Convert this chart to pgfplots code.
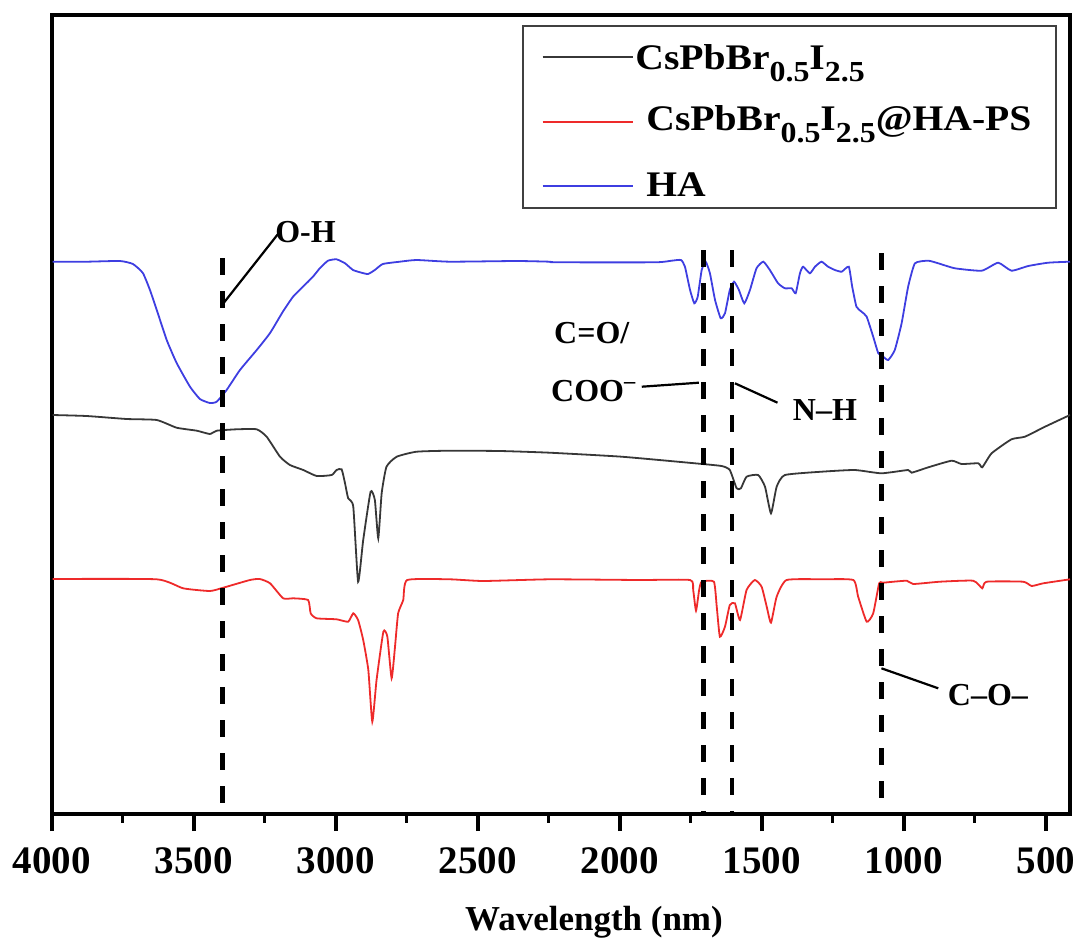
\documentclass[border=0pt]{standalone}
\usepackage{pgfplots}
\pgfplotsset{compat=1.18}
\usepackage{fontspec}
\setmainfont{Liberation Serif}
\definecolor{hablue}{RGB}{62,62,225}
\definecolor{psred}{RGB}{238,42,42}
\definecolor{csgray}{RGB}{55,55,55}
\tikzset{
  dashline/.style={black, line width=2.4pt, dash pattern=on 8.5pt off 8pt},
  leader/.style={black, line width=1.1pt},
  lab/.style={font=\fontsize{16}{16}\selectfont\bfseries, inner sep=0pt},
}
\newcommand{\sub}[1]{\raisebox{-5.8pt}{\fontsize{14.5}{14.5}\selectfont #1}}

\begin{document}
\begin{tikzpicture}
\useasboundingbox (-26pt,-62.5pt) rectangle (514pt,407pt);
\begin{axis}[
  scale only axis,
  width=509pt, height=399.5pt,
  x dir=reverse,
  xmin=415, xmax=4000,
  ymin=0, ymax=799,
  xtick={500,1000,...,4000},
  minor x tick num=1,
  ytick=\empty,
  xtick pos=left,
  tick align=outside,
  major tick length=8.5pt,
  minor tick length=4.3pt,
  every major tick/.style={line width=2pt, black},
  every minor tick/.style={line width=1.5pt, black},
  axis line style={line width=1.6pt},
  /pgf/number format/assume math mode=true,
  /pgf/number format/1000 sep={},
  xticklabel style={font=\fontsize{19.5}{20}\selectfont\bfseries, anchor=base, yshift=-21pt},
  every axis plot/.append style={smooth, tension=0.3, line width=0.9pt},
]
% HA
\addplot[hablue] coordinates {
 (3998,552.3) (3878,552.3) (3761,553) (3715,550) (3680,541) (3655,524)
 (3631,504) (3596,474) (3561,451) (3514,427.3) (3479,415) (3444,411)
 (3420,412.3) (3385,424) (3338,444) (3279,464) (3232,481) (3187,502.3)
 (3151,517.3) (3116,527.3) (3081,537.3) (3056,546) (3028,553.3) (2998,554.7)
 (2968,550.7) (2940,544) (2910,541.3) (2887,540) (2863,544) (2835,550)
 (2775,552.3) (2716,554) (2599,552.3) (2364,553) (2247,552.3) (2229,551.7)
 (1877,551.7) (1818,553.3) (1785,554) (1771,547.3) (1753,524) (1738,510.7)
 (1726,517.3) (1712,544) (1698,552.3) (1683,540.7) (1665,514) (1645,495.7)
 (1630,500.7) (1613,524) (1598,532.3) (1581,524) (1562,510.7) (1542,524)
 (1519,545.7) (1495,552.3) (1472,544) (1443,530.7) (1419,525.7) (1395,525.7)
 (1381,520.7) (1366,540.7) (1355,547.3) (1331,540.7) (1313,547.3) (1290,552.3)
 (1267,547.3) (1243,544) (1219,542.3) (1194,547.3) (1182,527.3) (1167,507.3)
 (1149,502.3) (1131,497.3) (1108,477.3) (1090,460.7) (1073,457.3) (1055,454)
 (1032,464) (1008,490.7) (985,527.3) (961,550.7) (914,553.3) (879,550.7)
 (820,545.7) (726,543.3) (668,551.3) (621,543.3) (562,548) (492,551.3) (415,552.3)
};
% CsPbBr0.5I2.5
\addplot[csgray] coordinates {
 (3998,399) (3878,398) (3737,395) (3631,394) (3561,386.3) (3490,383.3)
 (3444,380) (3420,383.3) (3350,384.7) (3279,384.7) (3244,377.3) (3197,357.3)
 (3162,349) (3115,344) (3068,338) (3015,339) (2998,344) (2980,344.7)
 (2968,330.7) (2957,315.7) (2939,307.3) (2922,232.3) (2904,274) (2878,322.3)
 (2863,314) (2851,275.7) (2839,320.7) (2822,347.3) (2786,357.3) (2716,362.3)
 (2599,363.3) (2422,363) (2247,361.3) (1994,357.3) (1736,350.7) (1642,348)
 (1613,344) (1589,325.7) (1574,325.7) (1554,337.3) (1513,339) (1489,327.3)
 (1468,300.7) (1448,327.3) (1419,339) (1290,342.3) (1173,344) (1079,340.7)
 (985,344) (973,341.3) (914,346.7) (832,353.3) (797,350) (738,350.7)
 (724,346.7) (691,360.7) (621,374.7) (574,377.3) (503,387.3) (415,399)
};
% CsPbBr0.5I2.5@HA-PS
\addplot[psred] coordinates {
 (3998,235) (3631,234.7) (3538,225.7) (3444,223) (3397,226.3) (3303,234)
 (3268,235) (3232,230.7) (3186,215.7) (3150,215.7) (3098,214) (3089,200.7)
 (3068,195.7) (2998,194.7) (2957,192.3) (2939,200.7) (2922,194) (2904,174)
 (2886,144) (2872,92.3) (2857,134) (2833,182.3) (2819,177.3) (2804,135.7)
 (2792,167.3) (2781,200.7) (2763,214) (2749,234) (2599,234.7) (2481,233)
 (2247,234.7) (1930,234) (1753,234) (1742,224) (1732,203.3) (1721,224)
 (1712,232.3) (1669,232.3) (1659,207.3) (1648,177.3) (1630,187.3) (1613,209)
 (1595,210.7) (1577,194) (1554,224) (1525,234) (1501,227.3) (1483,207.3)
 (1468,191.3) (1448,217.3) (1413,234) (1284,234.7) (1178,234) (1161,217.3)
 (1131,192.3) (1108,200.7) (1087,230.7) (1073,231.3) (990,233.3) (967,230)
 (873,232.3) (756,233.3) (724,225.7) (709,232.3) (580,232.3) (550,228)
 (509,230.7) (415,234.7)
};
% band markers
\draw[dashline] (axis cs:3400,556) -- (axis cs:3400,0);
\draw[dashline] (axis cs:1705,564) -- (axis cs:1705,0);
\draw[dashline] (axis cs:1605,564) -- (axis cs:1605,0);
\draw[dashline] (axis cs:1080,561) -- (axis cs:1080,0);
\draw[leader] (axis cs:3401,509) -- (axis cs:3204,580);
\node[lab, anchor=west] at (axis cs:3215,582) {O-H};
\draw[leader] (axis cs:1923,427.3) -- (axis cs:1722,431.3);
\node[lab] at (axis cs:2099,481) {C=O/};
\node[lab] at (axis cs:2092,423) {COO\textsuperscript{–}};
\draw[leader] (axis cs:1595,430.7) -- (axis cs:1445,411.3);
\node[lab] at (axis cs:1278,404) {N–H};
\draw[leader] (axis cs:1079,145.7) -- (axis cs:879,125.7);
\node[lab] at (axis cs:704,119) {C–O–};
\end{axis}
% legend
\draw[black!75, line width=1pt] (235.35pt,302.85pt) rectangle (501.75pt,394pt);
\draw[csgray, line width=0.9pt] (245.35pt,378.35pt) -- (290.65pt,378.35pt);
\draw[psred, line width=0.9pt] (245.35pt,346.15pt) -- (290.65pt,346.15pt);
\draw[hablue, line width=0.9pt] (245.35pt,314.15pt) -- (290.65pt,314.15pt);
\begin{scope}[every node/.style={anchor=base west, inner sep=0pt, font=\fontsize{18}{18}\selectfont\bfseries}]
\node at (291.5pt,372pt) {\scalebox{1.1}[1]{CsPbBr\sub{0.5}I\sub{2.5}}};
\node at (297pt,341.5pt) {\scalebox{1.1}[1]{CsPbBr\sub{0.5}I\sub{2.5}@HA-PS}};
\node at (297pt,308.65pt) {\scalebox{1.1}[1]{HA}};
\end{scope}
\node[anchor=base, inner sep=0pt, font=\fontsize{17.5}{18}\selectfont\bfseries] at (271pt,-58pt) {Wavelength (nm)};
\end{tikzpicture}
\end{document}
